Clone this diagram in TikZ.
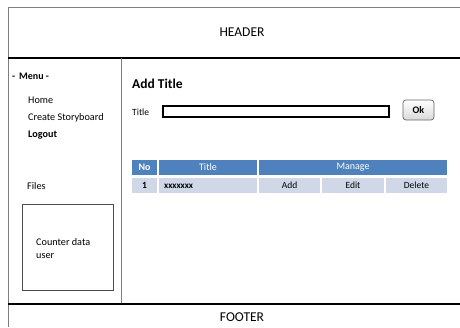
\documentclass[tikz,border=0pt]{standalone}
\usepackage{fontspec}
\setmainfont{Carlito}
\usetikzlibrary{shadings}
\definecolor{hdrblue}{HTML}{4F81BD}
\definecolor{rowblue}{HTML}{D0D8E8}
\definecolor{frame}{HTML}{7F7F7F}
\begin{document}
\begin{tikzpicture}[x=1pt,y=-1pt,
  big/.style={font=\fontsize{13.5}{15}\selectfont},
  menu/.style={font=\fontsize{10.2}{11}\selectfont, anchor=west, inner sep=0pt},
  hcell/.style={fill=hdrblue, draw=white, line width=1.2pt, text=white, font=\fontsize{10}{11}\selectfont},
  rcell/.style={fill=rowblue, draw=white, line width=1.2pt, text=black, font=\fontsize{9.5}{11}\selectfont}]
\useasboundingbox (0,0) rectangle (460,327);
% frame
\draw[frame, line width=1pt] (8,7) -- (460,7);
\draw[frame, line width=1pt] (8,7) -- (8,327);
\draw[black, line width=1.3pt] (8,58) -- (460,58);
\draw[frame, line width=1pt] (121,58) -- (121,304);
\draw[black, line width=1.3pt] (8,304) -- (460,304);
\node[big] (header) at (242,32) {HEADER};
\node[big] (footer) at (242,317) {FOOTER};
% menu
\node[menu, font=\fontsize{10}{11}\selectfont\bfseries] (menu) at (12,76) {-\, Menu -};
\node[menu] (home) at (28,100) {Home};
\node[menu] (create) at (28,118) {Create Storyboard};
\node[menu, font=\fontsize{10.2}{11}\selectfont\bfseries] (logout) at (28,135) {Logout};
\node[menu] (files) at (27,186) {Files};
\draw[black!70, line width=0.8pt] (22,204) rectangle (113,290);
\node[menu, align=left, font=\fontsize{10.2}{13}\selectfont] (counter) at (36,248) {Counter data\\user};
% content
\node[menu, font=\fontsize{13.5}{15}\selectfont\bfseries] (addtitle) at (132,84) {Add Title};
\node[menu, font=\fontsize{9.5}{10}\selectfont] (titlelbl) at (132,112) {Title};
\draw[black, line width=1.3pt, fill=white] (163,106) rectangle (389,117);
\node[draw=black!60, line width=0.7pt, rounded corners=3pt, top color=white, bottom color=black!15,
  minimum width=31pt, minimum height=20pt, inner sep=0pt, font=\fontsize{10}{11}\selectfont\bfseries] (ok) at (418.5,110) {Ok};
% table header
\node[hcell, minimum width=27pt, minimum height=17pt, inner sep=0pt, font=\fontsize{10}{11}\selectfont\bfseries] (hno) at (144.5,167.5) {No};
\node[hcell, minimum width=100pt, minimum height=17pt, inner sep=0pt] (htitle) at (208,167.5) {Title};
\node[hcell, minimum width=190pt, minimum height=17pt, inner sep=0pt] (hmanage) at (353,167.5) {Manage};
% row
\node[rcell, minimum width=27pt, minimum height=17pt, inner sep=0pt, font=\fontsize{9.5}{11}\selectfont\bfseries] (r1) at (144.5,185.5) {1};
\node[rcell, minimum width=100pt, minimum height=17pt, inner sep=0pt] (rtitle) at (208,185.5) {};
\node[menu, font=\fontsize{9}{11}\selectfont\bfseries] (xx) at (164,186) {xxxxxxx};
\node[rcell, minimum width=63pt, minimum height=17pt, inner sep=0pt] (radd) at (289.5,185.5) {Add};
\node[rcell, minimum width=64pt, minimum height=17pt, inner sep=0pt] (redit) at (353,185.5) {Edit};
\node[rcell, minimum width=63pt, minimum height=17pt, inner sep=0pt] (rdel) at (416.5,185.5) {Delete};
\end{tikzpicture}
\end{document}
